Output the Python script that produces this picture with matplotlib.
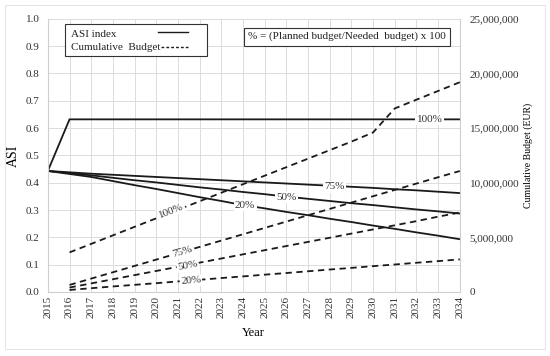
import numpy as np
import matplotlib
matplotlib.use("Agg")
import matplotlib.pyplot as plt
from matplotlib.ticker import FuncFormatter, MultipleLocator
from matplotlib.patches import Rectangle
from matplotlib.lines import Line2D

# DATA
tahun = list(range(2015, 2035))
tahun_budget = list(range(2016, 2035))

asi_100 = [0.443, 0.632, 0.632, 0.632, 0.632, 0.632, 0.632, 0.632, 0.632, 0.632,
           0.632, 0.632, 0.632, 0.632, 0.632, 0.632, 0.632, 0.632, 0.632, 0.632]
asi_75 = [0.443, 0.438, 0.433, 0.429, 0.425, 0.421, 0.417, 0.413, 0.409, 0.405,
          0.401, 0.397, 0.393, 0.389, 0.385, 0.381, 0.376, 0.372, 0.367, 0.362]
asi_50 = [0.443, 0.435, 0.427, 0.418, 0.409, 0.401, 0.392, 0.383, 0.375, 0.366,
          0.358, 0.349, 0.341, 0.333, 0.325, 0.318, 0.310, 0.302, 0.295, 0.287]
asi_20 = [0.443, 0.432, 0.421, 0.406, 0.391, 0.377, 0.362, 0.347, 0.333, 0.318,
          0.306, 0.293, 0.281, 0.268, 0.256, 0.243, 0.231, 0.218, 0.206, 0.193]

# juta EUR
budget_100 = [3.62, 4.40, 5.18, 5.96, 6.74, 7.52, 8.30, 9.08, 9.86, 10.64,
              11.42, 12.20, 12.98, 13.76, 14.60, 16.80, 17.60, 18.40, 19.20]
budget_75 = [0.64, 1.22, 1.80, 2.38, 2.96, 3.54, 4.12, 4.70, 5.28, 5.86,
             6.44, 7.02, 7.60, 8.18, 8.76, 9.34, 9.92, 10.50, 11.07]
budget_50 = [0.40, 0.78, 1.16, 1.54, 1.92, 2.30, 2.68, 3.06, 3.44, 3.82,
             4.20, 4.58, 4.96, 5.34, 5.72, 6.10, 6.48, 6.89, 7.27]
budget_20 = [0.18, 0.34, 0.50, 0.65, 0.80, 0.96, 1.11, 1.27, 1.42, 1.58,
             1.73, 1.89, 2.05, 2.20, 2.36, 2.51, 2.67, 2.82, 2.98]

label_asi = [("100%", 2032.6, 0.632), ("75%", 2028.2, 0.385),
             ("50%", 2026.0, 0.347), ("20%", 2024.1, 0.318)]
label_budget = [("100%", 2020.7, 0.298, 21), ("75%", 2021.2, 0.146, 16),
                ("50%", 2021.45, 0.098, 11), ("20%", 2021.6, 0.040, 5)]

# PLOT
plt.rcParams["font.family"] = ["Liberation Serif", "DejaVu Serif"]
plt.rcParams["font.size"] = 8

warna = "#1a1a1a"
abu = "#dcdcdc"

fig = plt.figure(figsize=(5.5, 3.56), dpi=100)
ax = fig.add_axes([0.087, 0.180, 0.749, 0.767])
ax2 = ax.twinx()

fig.patches.append(Rectangle((0.009, 0.02), 0.982, 0.966, transform=fig.transFigure,
                             fill=False, edgecolor="#e6e6e6", lw=0.8))

for seri in [asi_100, asi_75, asi_50, asi_20]:
    ax.plot(tahun, seri, color=warna, lw=1.3, solid_joinstyle="miter")

for seri in [budget_100, budget_75, budget_50, budget_20]:
    ax2.plot(tahun_budget, np.array(seri) * 1e6, color=warna, lw=1.3, ls=(0, (3.5, 2.5)))

# label di atas semua garis -> taruh di ax2 pakai koordinat ax
for teks, x, y in label_asi:
    ax2.text(x, y, teks, ha="center", va="center", fontsize=8, color="#333333",
             transform=ax.transData,
             bbox=dict(facecolor="white", edgecolor="none", pad=1.0), zorder=5)
for teks, x, y, rot in label_budget:
    ax2.text(x, y, teks, ha="center", va="center", fontsize=8, color="#333333", rotation=rot,
             transform=ax.transData,
             bbox=dict(facecolor="white", edgecolor="none", pad=0.8), zorder=5)

ax.set_xlim(2015, 2034)
ax.set_ylim(0, 1.0)
ax.xaxis.set_major_locator(MultipleLocator(1))
ax.yaxis.set_major_locator(MultipleLocator(0.1))
ax.yaxis.set_major_formatter(FuncFormatter(lambda v, p: f"{v:.1f}"))
ax.tick_params(axis="x", rotation=90, length=0, pad=3, labelcolor="#333333")
ax.tick_params(axis="y", length=0, pad=6, labelcolor="#333333")
ax.grid(True, color=abu, lw=0.7)
ax.set_axisbelow(True)
ax.set_xlabel("Year", fontsize=9, labelpad=6)
ax.set_ylabel("ASI", fontsize=10, labelpad=4)

ax2.set_ylim(0, 25e6)
ax2.yaxis.set_major_locator(MultipleLocator(5e6))
ax2.yaxis.set_major_formatter(FuncFormatter(lambda v, p: f"{v:,.0f}"))
ax2.tick_params(axis="y", length=0, pad=7, labelcolor="#333333")
ax2.set_ylabel("Cumulative Budget (EUR)", fontsize=7, labelpad=3)

for a in [ax, ax2]:
    for s in a.spines.values():
        s.set_visible(False)
for s in ["left", "bottom", "right"]:
    ax.spines[s].set_visible(True)
    ax.spines[s].set_color("#cfcfcf")
    ax.spines[s].set_linewidth(0.8)

# legenda manual (teks kiri, garis kanan)
ax2.add_patch(Rectangle((0.041, 0.864), 0.345, 0.118, transform=ax.transAxes,
                        facecolor="white", edgecolor="#333333", lw=0.8, zorder=6))
ax2.text(0.057, 0.942, "ASI index", transform=ax.transAxes, ha="left", va="center",
         fontsize=8, color="#222222", zorder=7)
ax2.text(0.057, 0.894, "Cumulative  Budget", transform=ax.transAxes, ha="left", va="center",
         fontsize=8, color="#222222", zorder=7)
ax2.add_line(Line2D([0.267, 0.340], [0.953, 0.953], transform=ax.transAxes,
                    color=warna, lw=1.0, zorder=7))
ax2.add_line(Line2D([0.275, 0.340], [0.898, 0.898], transform=ax.transAxes,
                    color=warna, lw=1.0, ls=(0, (2, 1.5)), zorder=7))

ax2.text(0.486, 0.935, "% = (Planned budget/Needed  budget) x 100", transform=ax.transAxes,
         ha="left", va="center", fontsize=8, color="#222222", zorder=7,
         bbox=dict(facecolor="white", edgecolor="#333333", lw=0.8, pad=3))

fig.savefig("out.png", dpi=100)
